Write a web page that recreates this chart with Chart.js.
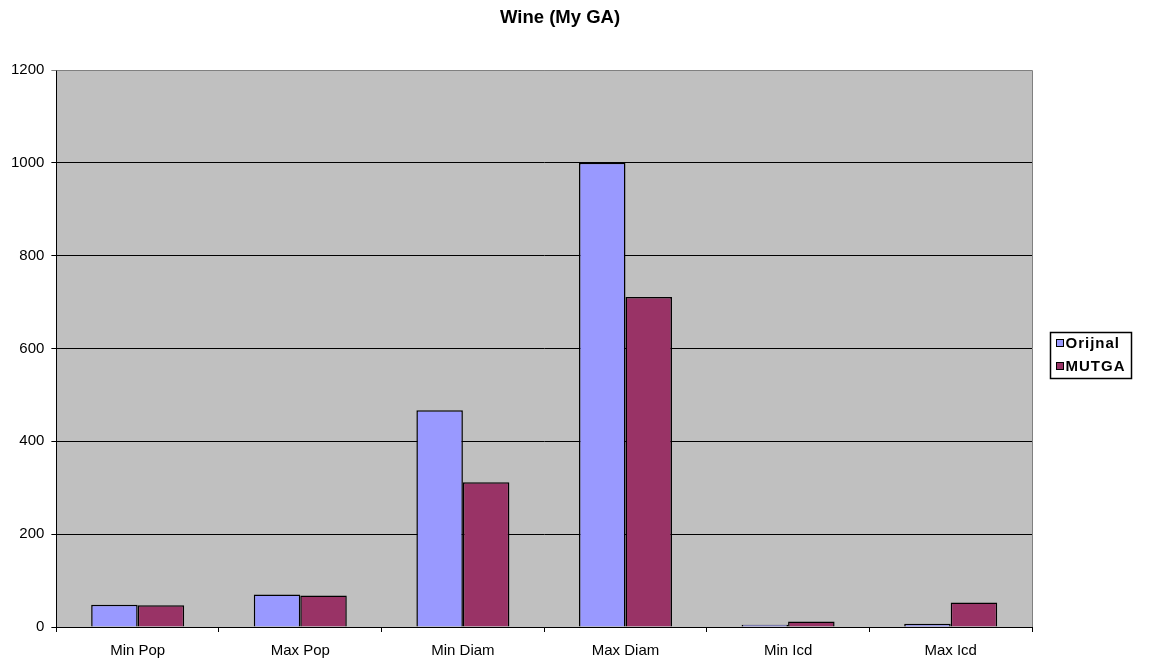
<!DOCTYPE html>
<html>
<head>
<meta charset="utf-8">
<script src="https://cdn.jsdelivr.net/npm/chart.js@4/dist/chart.umd.min.js"></script>
<style>
  html, body { margin: 0; padding: 0; background: #fff; }
  #wrap { width: 1152px; height: 664px; }
</style>
</head>
<body>
<div id="wrap"><canvas id="wine-chart"></canvas></div>
<script>
const chartTitle = "Wine (My GA)";
const categories = ["Min Pop", "Max Pop", "Min Diam", "Max Diam", "Min Icd", "Max Icd"];
const orijinal = [48, 70, 467, 1000, 5, 7];
const mutga = [47, 68, 312, 711, 12, 53];
const yTicks = [0, 200, 400, 600, 800, 1000, 1200];

const FONT = "'Liberation Sans', Arial, sans-serif";

// grey plot area + title + boxed legend
const excelLook = {
  id: "excelLook",
  beforeDraw(chart) {
    const { ctx, chartArea: a } = chart;
    ctx.save();
    ctx.fillStyle = "#C0C0C0";
    ctx.fillRect(a.left, a.top, a.right - a.left, a.bottom - a.top);
    ctx.restore();
  },
  afterDatasetsDraw(chart) {
    const { ctx, chartArea: a } = chart;
    ctx.save();
    ctx.strokeStyle = "#808080";
    ctx.lineWidth = 1;
    ctx.beginPath();
    ctx.moveTo(a.left, a.top + 0.5);
    ctx.lineTo(a.right + 0.5, a.top + 0.5);
    ctx.lineTo(a.right + 0.5, a.bottom);
    ctx.stroke();
    ctx.restore();
  },
  afterDraw(chart) {
    const ctx = chart.ctx;
    ctx.save();
    ctx.fillStyle = "#000";
    ctx.font = "bold 18.5px " + FONT;
    ctx.textAlign = "center";
    ctx.textBaseline = "middle";
    ctx.fillText(chartTitle, 560, 18);

    // legend
    const bx = 1050.5, by = 332.5, bw = 81, bh = 46;
    ctx.strokeStyle = "#000";
    ctx.lineWidth = 1.5;
    ctx.strokeRect(bx, by, bw, bh);
    ctx.font = "bold 15px " + FONT;
    ctx.letterSpacing = "1px";
    ctx.textAlign = "left";
    chart.data.datasets.forEach((ds, i) => {
      const cy = by + 10 + i * 23;
      ctx.fillStyle = ds.backgroundColor;
      ctx.fillRect(bx + 6, cy - 3, 7, 7);
      ctx.lineWidth = 1;
      ctx.strokeStyle = "#000";
      ctx.strokeRect(bx + 6, cy - 3, 7, 7);
      ctx.fillStyle = "#000";
      ctx.fillText(ds.label, bx + 15, cy + 1);
    });
    ctx.restore();
  }
};

new Chart(document.getElementById("wine-chart"), {
  type: "bar",
  data: {
    labels: categories,
    datasets: [
      {
        label: "Orijnal",
        data: orijinal,
        backgroundColor: "#9999FF",
        borderColor: "#000",
        borderWidth: 1.5
      },
      {
        label: "MUTGA",
        data: mutga,
        backgroundColor: "#993366",
        borderColor: "#000",
        borderWidth: 1.5
      }
    ]
  },
  options: {
    responsive: true,
    maintainAspectRatio: false,
    animation: false,
    layout: { padding: { top: 70, right: 120, left: 4, bottom: 0 } },
    datasets: { bar: { categoryPercentage: 0.572, barPercentage: 1 } },
    scales: {
      x: {
        afterFit: (scale) => { scale.height = 37; },
        grid: {
          offset: true,
          drawOnChartArea: false,
          color: "#000",
          tickLength: 5
        },
        border: { color: "#000", width: 1 },
        ticks: { color: "#000", font: { family: FONT, size: 15, lineHeight: 0.8 }, padding: 13 }
      },
      y: {
        min: 0,
        max: 1200,
        afterBuildTicks: (scale) => {
          scale.ticks = yTicks.map(v => ({ value: v }));
        },
        grid: {
          color: (c) => (c.tick && c.tick.value === 1200 ? "#808080" : "#000"),
          tickLength: 5
        },
        border: { color: "#000", width: 1 },
        ticks: {
          color: "#000",
          font: { family: FONT, size: 15 },
          padding: 7,
          callback: (v) => String(v)
        }
      }
    },
    plugins: {
      legend: { display: false },
      title: { display: false },
      tooltip: { enabled: false }
    }
  },
  plugins: [excelLook]
});
</script>
</body>
</html>
